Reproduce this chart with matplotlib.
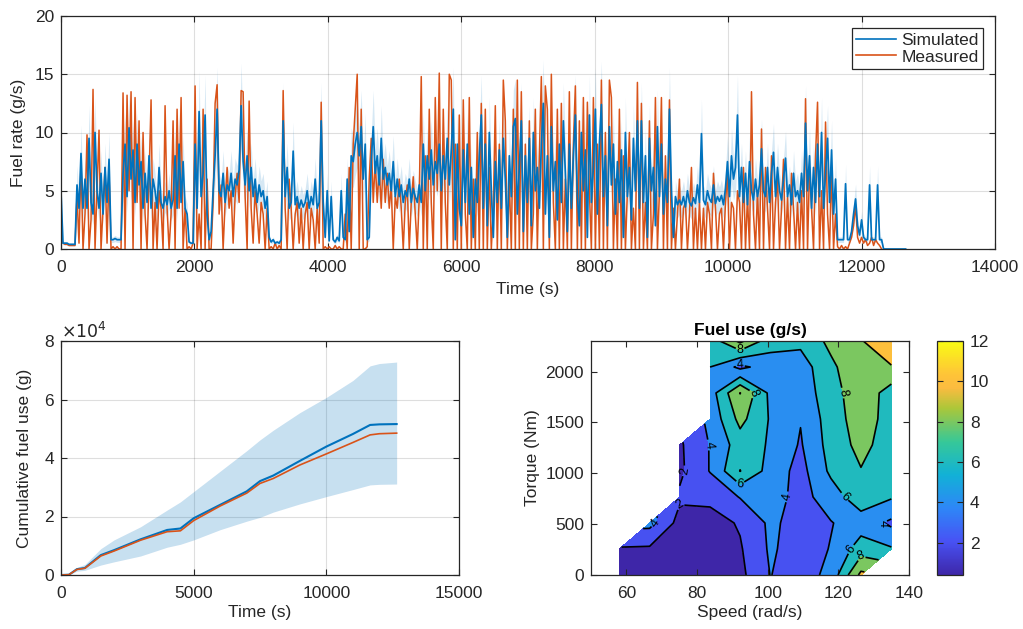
import numpy as np
import matplotlib
matplotlib.use('Agg')
import matplotlib.pyplot as plt
from matplotlib.colors import LinearSegmentedColormap, Normalize
from matplotlib.lines import Line2D
from matplotlib.cm import ScalarMappable

plt.rcParams['font.family'] = ['Liberation Sans', 'DejaVu Sans']
plt.rcParams['font.size'] = 12.5
plt.rcParams['text.color'] = '#262626'
plt.rcParams['axes.labelcolor'] = '#262626'

# ---------------- data: fuel rate time series (30 s samples) ----------------
sample_step_s = 30
simulated_rate = [
    4.9, 0.5, 0.5, 0.5, 0.4, 0.4, 0.4, 0.4, 5.5, 3.5,
    8.2, 3.5, 6.0, 3.5, 9.5, 4.0, 3.0, 10.0, 5.0, 3.5,
    6.5, 3.0, 7.0, 4.0, 7.7, 0.8, 0.8, 0.9, 0.8, 0.8,
    0.8, 6.5, 9.0, 4.5, 10.4, 6.0, 8.5, 4.0, 9.0, 5.5,
    7.5, 3.5, 6.5, 4.0, 8.0, 3.5, 6.0, 5.0, 3.5, 7.0,
    4.0, 3.5, 4.5, 3.8, 5.0, 3.5, 4.2, 8.0, 3.5, 9.0,
    4.0, 7.5, 3.5, 3.0, 0.6, 0.5, 0.5, 9.0, 3.5, 11.8,
    4.5, 6.5, 11.5, 3.0, 0.8, 1.5, 5.0, 8.0, 12.0, 5.0,
    4.5, 6.5, 4.0, 5.5, 5.0, 6.5, 4.5, 6.0, 5.5, 6.8,
    12.3, 7.5, 5.5, 8.0, 5.0, 7.0, 4.5, 6.0, 4.0, 5.5,
    4.5, 5.0, 3.5, 4.5, 1.0, 0.6, 0.8, 0.5, 0.6, 0.5,
    0.8, 11.0, 4.5, 7.0, 3.5, 4.0, 8.4, 3.8, 4.5, 3.5,
    4.2, 3.6, 4.0, 5.0, 3.5, 4.5, 3.8, 6.0, 3.5, 4.0,
    11.0, 4.0, 1.0, 5.0, 0.7, 4.5, 0.8, 0.6, 1.0, 0.7,
    5.0, 1.0, 0.8, 6.0, 1.5, 8.0, 7.5, 9.0, 10.0, 8.0,
    10.5, 6.0, 9.0, 0.8, 1.0, 7.5, 10.5, 6.5, 8.0, 5.5,
    9.5, 6.0, 7.0, 5.5, 6.5, 5.0, 7.5, 4.5, 6.0, 4.5,
    5.5, 4.0, 5.0, 4.5, 6.0, 4.0, 5.2, 4.5, 4.0, 5.5,
    4.0, 9.0, 5.0, 8.0, 6.0, 8.5, 5.5, 7.5, 6.5, 9.0,
    5.0, 8.0, 6.0, 9.5, 5.5, 8.5, 12.0, 0.8, 9.0, 3.5,
    2.0, 8.5, 4.0, 9.0, 3.0, 7.0, 1.0, 6.0, 4.0, 8.0,
    11.5, 3.5, 9.0, 2.0, 10.0, 5.0, 1.0, 7.5, 4.0, 8.5,
    3.5, 9.5, 6.0, 1.0, 8.0, 4.5, 10.5, 11.2, 3.0, 7.0,
    11.0, 1.5, 8.0, 4.0, 9.5, 2.0, 10.0, 5.0, 7.0, 3.5,
    9.0, 12.5, 3.0, 8.0, 1.0, 10.5, 5.0, 7.5, 2.5, 9.0,
    4.0, 11.0, 6.5, 1.5, 9.0, 3.5, 8.0, 11.5, 4.5, 2.0,
    10.0, 5.0, 8.5, 1.0, 11.5, 4.0, 7.0, 12.0, 3.0, 9.0,
    12.4, 4.5, 8.0, 2.0, 10.5, 5.5, 9.0, 3.0, 7.5, 4.0,
    8.5, 1.0, 10.0, 4.5, 7.0, 2.5, 9.5, 5.0, 11.0, 3.5,
    11.0, 4.0, 8.0, 1.0, 9.5, 5.0, 7.0, 2.0, 10.5, 4.5,
    9.0, 3.0, 6.0, 4.0, 12.0, 5.0, 1.0, 4.5, 3.8, 4.2,
    3.8, 4.5, 3.6, 5.0, 4.0, 3.7, 4.4, 3.9, 5.5, 4.0,
    9.9, 4.2, 3.8, 5.0, 4.3, 4.0, 5.5, 3.9, 4.5, 4.1,
    4.6, 3.8, 5.2, 7.5, 4.5, 8.0, 6.0, 7.0, 11.5, 4.5,
    7.0, 4.0, 6.5, 3.8, 7.5, 5.0, 4.2, 6.0, 4.5, 5.5,
    8.6, 5.0, 4.5, 7.0, 4.0, 6.5, 8.3, 4.5, 7.0, 5.0,
    4.2, 6.0, 7.8, 4.5, 5.5, 3.8, 6.5, 4.5, 5.0, 4.0,
    6.5, 4.5, 10.8, 5.0, 8.0, 3.5, 7.0, 4.0, 9.0, 4.5,
    10.0, 3.5, 6.5, 9.5, 4.0, 8.5, 3.0, 6.0, 0.8, 0.8,
    0.8, 0.8, 5.6, 0.8, 0.8, 1.5, 3.0, 4.3, 2.0, 1.2,
    2.5, 1.0, 0.8, 0.8, 5.5, 0.8, 0.8, 0.8, 5.5, 0.8,
    0.8, 0.0, 0.0, 0.0, 0.0, 0.0, 0.0, 0.0, 0.0, 0.0,
    0.0, 0.0, 0.0,
]
measured_rate = [
    1.0, 0.5, 0.4, 0.4, 0.3, 0.3, 0.3, 0.3, 4.5, 0.5,
    7.5, 0.0, 3.0, 9.8, 0.0, 2.5, 13.7, 0.0, 5.0, 10.2,
    0.0, 3.5, 7.0, 0.5, 6.5, 0.0, 0.2, 0.0, 0.2, 0.0,
    0.0, 13.4, 0.0, 13.2, 5.0, 13.5, 0.0, 13.0, 4.0, 11.0,
    0.0, 10.0, 3.0, 0.0, 6.0, 12.8, 0.0, 4.0, 0.0, 5.0,
    3.5, 0.0, 12.3, 3.5, 0.0, 3.0, 11.0, 0.0, 12.0, 3.5,
    13.0, 0.0, 3.5, 0.0, 0.2, 0.0, 0.5, 14.0, 0.0, 3.0,
    0.0, 12.0, 0.0, 6.0, 0.0, 0.0, 4.0, 12.5, 14.1, 3.0,
    5.5, 0.0, 4.0, 7.0, 3.5, 5.0, 0.5, 4.5, 6.5, 4.0,
    13.6, 13.5, 4.5, 0.0, 12.7, 3.5, 0.5, 5.0, 3.0, 0.5,
    4.0, 3.0, 0.0, 3.5, 0.0, 0.2, 0.0, 0.5, 0.0, 0.3,
    0.0, 13.6, 3.5, 0.0, 6.0, 3.5, 0.0, 3.0, 4.0, 0.5,
    3.5, 0.0, 3.0, 4.0, 0.0, 3.5, 2.5, 0.0, 3.5, 0.5,
    12.6, 0.0, 0.2, 0.0, 0.2, 0.0, 0.0, 0.3, 0.0, 0.2,
    0.0, 0.0, 3.0, 0.0, 7.0, 0.0, 9.0, 12.0, 15.0, 0.0,
    12.0, 0.0, 0.0, 0.2, 6.0, 9.5, 4.0, 7.5, 4.0, 7.0,
    3.5, 7.7, 4.0, 6.5, 3.5, 5.5, 0.0, 4.5, 3.5, 6.0,
    3.5, 0.0, 4.0, 5.5, 0.0, 4.0, 6.2, 3.0, 0.0, 4.5,
    14.8, 0.0, 8.0, 0.0, 12.0, 4.0, 0.0, 13.0, 5.0, 15.1,
    0.0, 12.0, 4.0, 0.0, 15.0, 14.5, 0.0, 9.0, 0.0, 11.5,
    0.0, 12.8, 3.0, 0.0, 13.0, 0.0, 6.0, 0.0, 10.0, 0.0,
    12.5, 0.0, 12.0, 0.0, 7.0, 0.0, 3.5, 12.3, 0.0, 9.0,
    0.0, 14.5, 11.0, 0.0, 6.0, 0.0, 12.0, 0.0, 14.5, 0.0,
    13.5, 0.0, 9.0, 0.0, 11.0, 0.0, 3.0, 12.0, 0.0, 8.0,
    14.8, 0.0, 14.0, 12.0, 0.0, 15.0, 4.0, 0.0, 12.0, 0.0,
    12.5, 0.0, 6.0, 0.0, 13.5, 0.0, 9.0, 14.0, 0.0, 11.0,
    0.0, 13.0, 0.0, 12.6, 5.0, 0.0, 13.0, 0.0, 9.0, 0.0,
    14.5, 0.0, 10.0, 0.0, 14.5, 13.0, 0.0, 6.0, 0.0, 12.0,
    0.0, 8.0, 0.0, 5.0, 10.0, 0.0, 3.5, 0.0, 14.3, 0.0,
    12.5, 0.0, 4.0, 0.0, 11.0, 0.0, 3.0, 13.0, 0.0, 5.0,
    13.0, 0.0, 8.0, 0.0, 12.8, 0.0, 3.5, 0.0, 3.0, 6.0,
    0.0, 3.5, 4.0, 0.0, 3.0, 7.0, 0.0, 3.5, 0.0, 4.0,
    0.0, 3.5, 0.0, 4.0, 3.0, 0.0, 6.5, 3.5, 0.0, 3.0,
    3.5, 0.0, 4.0, 6.5, 0.0, 4.0, 3.5, 0.0, 5.0, 4.0,
    0.0, 7.0, 0.0, 4.5, 0.0, 13.5, 3.0, 0.0, 5.0, 0.0,
    10.3, 0.0, 7.0, 3.5, 0.0, 8.0, 0.0, 4.0, 6.0, 0.0,
    3.5, 7.7, 0.0, 4.5, 0.0, 6.5, 3.5, 0.0, 4.0, 0.0,
    5.0, 0.0, 12.9, 0.0, 7.0, 3.5, 0.0, 8.0, 12.6, 0.0,
    5.0, 0.0, 10.9, 3.0, 0.0, 7.0, 0.0, 3.0, 0.2, 0.0,
    0.3, 0.0, 0.2, 0.0, 0.5, 1.0, 2.0, 3.8, 1.0, 0.5,
    1.0, 0.5, 0.8, 0.3, 0.5, 1.0, 0.3, 0.8, 0.5, 0.3,
    0.0,
]
simulated_band_fraction = 0.3

# ---------------- data: cumulative fuel use ----------------
cum_time = [0, 300, 600, 900, 1500, 2000, 3000, 4000, 4500, 5000, 6000,
            7000, 7500, 8000, 9000, 10000, 11000, 11650, 12000, 12650]
cum_simulated = [0, 100, 2000, 2400, 6800, 8500, 12200, 15400, 15900, 19400,
                 24000, 28600, 32100, 34000, 39000, 43900, 48200, 51300, 51500, 51600]
cum_measured = [0, 100, 1900, 2300, 6500, 8200, 11900, 14800, 15100, 18600,
                23600, 28000, 31300, 33000, 37600, 41400, 45300, 47900, 48300, 48500]
cum_upper = [0, 150, 2600, 3600, 9000, 12000, 16500, 22200, 25000, 28500,
             35500, 42500, 46200, 49500, 55500, 60700, 66500, 71500, 72300, 72800]
cum_lower = [0, 50, 1300, 1600, 3400, 4500, 6500, 9500, 10500, 12000,
             15500, 18400, 19700, 21500, 24300, 26800, 29200, 30800, 31000, 31100]

# ---------------- data: fuel map ----------------
map_speed = [58.0, 66.6, 75.1, 83.7, 92.2, 100.8, 109.3, 117.9, 126.4, 135.0]
map_torque = [0, 256, 511, 767, 1022, 1278, 1533, 1789, 2044, 2300]
nan = np.nan
fuel_map = [
    [1.0, 1.0, 0.8, 0.8, 1.5, 4.05, 3.0, 4.6, 10.5, nan],
    [1.8, 1.7, 1.0, 1.0, 1.8, 4.3, 3.0, 4.1, 7.0, 6.2],
    [nan, 4.6, 1.3, 1.2, 2.2, 4.4, 3.2, 3.9, 5.0, 3.6],
    [nan, nan, 2.3, 2.5, 4.1, 4.9, 3.3, 5.0, 7.2, 6.2],
    [nan, nan, 1.6, 4.1, 8.05, 5.2, 3.3, 6.4, 7.9, 7.0],
    [nan, nan, 1.7, 4.1, 7.0, 5.8, 3.8, 6.8, 8.6, 7.0],
    [nan, nan, nan, 4.5, 8.6, 5.8, 4.1, 7.0, 9.0, 7.2],
    [nan, nan, nan, 5.0, 10.05, 5.5, 5.0, 7.0, 9.5, 7.0],
    [nan, nan, nan, 6.0, 3.5, 5.0, 5.0, 7.6, 9.5, 9.9],
    [nan, nan, nan, 6.8, 10.5, 6.8, 6.5, 8.5, 9.9, 11.2],
]
fill_levels = [0, 2, 4, 6, 8, 10, 12]
line_levels = [2, 4, 6, 8, 10]
label_levels = [2, 4, 6, 8]
color_limits = (0.4, 12)
colorbar_ticks = [2, 4, 6, 8, 10, 12]

# ---------------- styling ----------------
BLUE = '#0072BD'
ORANGE = '#D95319'
DARK = '#262626'
FS = 12.5

parula = LinearSegmentedColormap.from_list('parula', [
    (0.000, (0.2422, 0.1504, 0.6603)),
    (0.143, (0.2810, 0.3228, 0.9579)),
    (0.286, (0.1786, 0.5289, 0.9682)),
    (0.429, (0.0689, 0.6948, 0.8394)),
    (0.571, (0.2161, 0.7843, 0.5923)),
    (0.714, (0.6720, 0.7793, 0.2227)),
    (0.800, (0.9850, 0.7350, 0.2500)),
    (0.857, (0.9970, 0.7659, 0.2199)),
    (1.000, (0.9769, 0.9839, 0.0805)),
])


def matlab_axes(ax, grid=True):
    for s in ax.spines.values():
        s.set_color(DARK)
        s.set_linewidth(0.9)
    ax.tick_params(direction='in', top=True, right=True, length=4, width=0.8,
                   colors=DARK, labelsize=FS)
    ax.tick_params(axis='x', pad=8)
    ax.tick_params(axis='y', pad=5)
    if grid:
        ax.grid(True, color='black', alpha=0.13, lw=0.8)
        ax.set_axisbelow(True)


W, H = 1023, 629
fig = plt.figure(figsize=(W / 100, H / 100), dpi=100)


def px_axes(x0, y0, x1, y1):
    return fig.add_axes([x0 / W, 1 - y1 / H, (x1 - x0) / W, (y1 - y0) / H])


# ---- top panel ----
ax1 = px_axes(61, 16, 995, 249)
sim = np.array(simulated_rate)
meas = np.array(measured_rate)
t_sim = np.arange(len(sim)) * sample_step_s
t_meas = np.arange(len(meas)) * sample_step_s
ax1.fill_between(t_sim, sim * (1 - simulated_band_fraction), sim * (1 + simulated_band_fraction),
                 color=BLUE, alpha=0.16, lw=0)
ax1.plot(t_meas, meas, color=ORANGE, lw=1.1)
ax1.plot(t_sim, sim, color=BLUE, lw=1.25)
ax1.set_xlim(0, 14000)
ax1.set_ylim(0, 20)
ax1.set_xticks(range(0, 14001, 2000))
ax1.set_yticks([0, 5, 10, 15, 20])
matlab_axes(ax1)
ax1.set_xlabel('Time (s)', labelpad=5)
ax1.set_ylabel('Fuel rate (g/s)', labelpad=6)
handles = [Line2D([], [], color=BLUE, lw=1.2), Line2D([], [], color=ORANGE, lw=1.2)]
leg = ax1.legend(handles, ['Simulated', 'Measured'], loc='upper right', fancybox=False,
                 edgecolor=DARK, framealpha=1, fontsize=FS, handlelength=2.3,
                 borderaxespad=0.7, borderpad=0.25, labelspacing=0.1, handletextpad=0.3)
leg.get_frame().set_linewidth(0.9)

# ---- bottom-left panel ----
ax2 = px_axes(61, 341, 459, 575)
ax2.fill_between(cum_time, cum_lower, cum_upper, color=BLUE, alpha=0.22, lw=0)
ax2.plot(cum_time, cum_simulated, color=BLUE, lw=1.5)
ax2.plot(cum_time, cum_measured, color=ORANGE, lw=1.2)
ax2.set_xlim(0, 15000)
ax2.set_ylim(0, 80000)
ax2.set_xticks([0, 5000, 10000, 15000])
ax2.set_yticks([0, 20000, 40000, 60000, 80000])
ax2.set_yticklabels(['0', '2', '4', '6', '8'])
ax2.text(0.0, 1.0, r'$\times10^{4}$', transform=ax2.transAxes, ha='left', va='bottom',
         fontsize=FS, color=DARK)
matlab_axes(ax2)
ax2.set_xlabel('Time (s)', labelpad=3)
ax2.set_ylabel('Cumulative fuel use (g)', labelpad=9)

# ---- bottom-right panel: fuel map ----
ax3 = px_axes(591, 341, 909, 575)
norm = Normalize(*color_limits)
Z = np.ma.masked_invalid(np.array(fuel_map))
band_colors = [parula(norm(max(lv, color_limits[0]))) for lv in fill_levels[:-1]]
ax3.contourf(map_speed, map_torque, Z, levels=fill_levels, colors=band_colors, corner_mask=True)
cl = ax3.contour(map_speed, map_torque, Z, levels=line_levels, colors='black',
                 linewidths=1.2, corner_mask=True)
ax3.clabel(cl, levels=label_levels, fmt='%d', fontsize=9, inline=True, inline_spacing=2)
ax3.set_xlim(50, 140)
ax3.set_ylim(0, 2300)
ax3.set_xticks([60, 80, 100, 120, 140])
ax3.set_yticks([0, 500, 1000, 1500, 2000])
matlab_axes(ax3, grid=False)
ax3.set_xlabel('Speed (rad/s)', labelpad=3)
ax3.set_ylabel('Torque (Nm)', labelpad=4)
ax3.set_title('Fuel use (g/s)', fontweight='bold', fontsize=FS, pad=4, color='black')

cax = px_axes(937, 341, 963, 575)
cb = fig.colorbar(ScalarMappable(norm=norm, cmap=parula), cax=cax, ticks=colorbar_ticks)
cb.outline.set_edgecolor(DARK)
cb.outline.set_linewidth(0.9)
cax.tick_params(direction='in', length=4, width=0.8, colors=DARK, labelsize=FS,
                right=True, left=True, pad=5)

fig.savefig('out.png', dpi=100)
